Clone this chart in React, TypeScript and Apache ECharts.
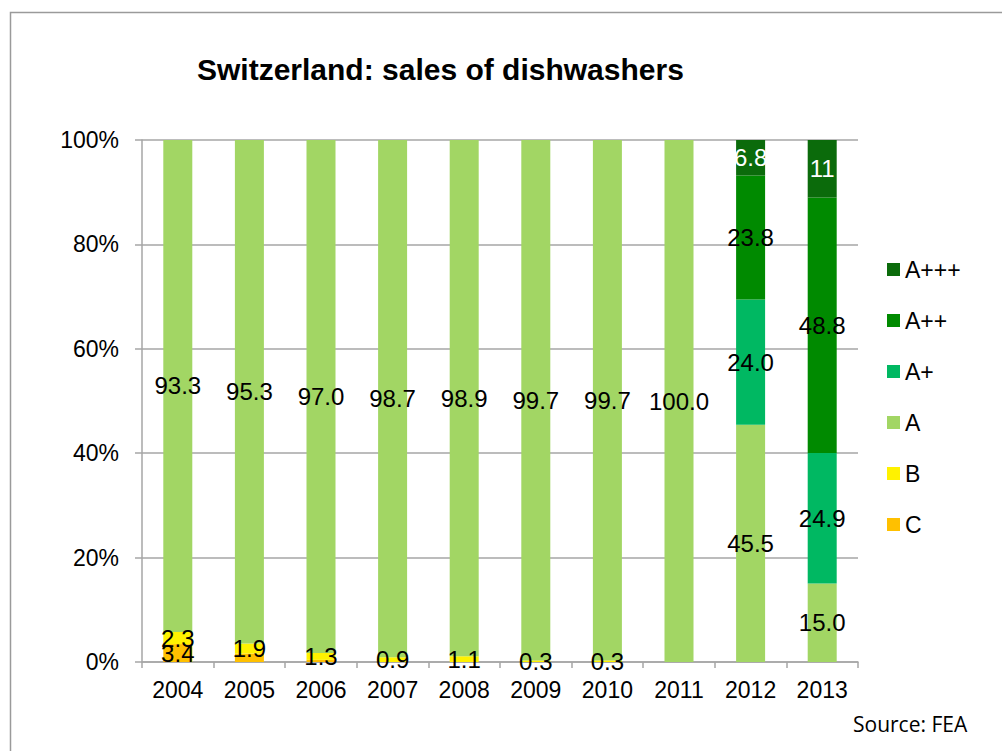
import React, { useEffect, useRef } from "react";
import * as echarts from "echarts";

const years = ["2004", "2005", "2006", "2007", "2008", "2009", "2010", "2011", "2012", "2013"];
const cVals = [3.4, 1.6, 0.4, null, null, null, null, null, null, null];
const cLabelShown = [true, false, false, false, false, false, false, false, false, false];
const bVals = [2.3, 1.9, 1.3, 0.9, 1.1, 0.3, 0.3, null, null, null];
const aVals = [93.3, 95.3, 97.0, 98.7, 98.9, 99.7, 99.7, 100.0, 45.5, 15.0];
const aPlusVals = [null, null, null, null, null, null, null, null, 24.0, 24.9];
const a2PlusVals = [null, null, null, null, null, null, null, null, 23.8, 48.8];
const a3PlusVals = [null, null, null, null, null, null, null, null, 6.8, 11];
const legendOrder = ["A+++", "A++", "A+", "A", "B", "C"];

const FONT = "'Liberation Sans', Arial, sans-serif";
const GRID = "#a6a6a6";

export default function App() {
  const ref = useRef<HTMLDivElement>(null);
  useEffect(() => {
    document.body.style.margin = "0";
    const chart = echarts.init(ref.current!, null, { renderer: "svg", width: 1002, height: 751 });
    const defs = [
      { name: "C", raw: cVals, color: "#FFC000", labelColor: "#000", shown: cLabelShown, fmt: (v: number) => v.toFixed(1) },
      { name: "B", raw: bVals, color: "#FFF200", labelColor: "#000", shown: null, fmt: (v: number) => v.toFixed(1) },
      { name: "A", raw: aVals, color: "#A2D664", labelColor: "#000", shown: null, fmt: (v: number) => v.toFixed(1) },
      { name: "A+", raw: aPlusVals, color: "#00B862", labelColor: "#000", shown: null, fmt: (v: number) => v.toFixed(1) },
      { name: "A++", raw: a2PlusVals, color: "#008A00", labelColor: "#000", shown: null, fmt: (v: number) => v.toFixed(1) },
      { name: "A+++", raw: a3PlusVals, color: "#0B6B0B", labelColor: "#fff", shown: null, fmt: (v: number) => String(v) },
    ];
    const totals = years.map((_, i) =>
      defs.reduce((s, d) => s + ((d.raw[i] as number | null) ?? 0), 0)
    );
    const series = defs.map((d) => ({
      name: d.name,
      type: "bar",
      stack: "total",
      barWidth: 29,
      itemStyle: { color: d.color },
      data: d.raw.map((v, i) => (v == null ? null : ((v as number) / totals[i]) * 100)),
      label: {
        show: true,
        position: "inside",
        color: d.labelColor,
        fontSize: 24,
        fontFamily: FONT,
        formatter: (p: any) => {
          const v = d.raw[p.dataIndex] as number | null;
          if (v == null) return "";
          if (d.shown && !d.shown[p.dataIndex]) return "";
          return d.fmt(v);
        },
      },
    }));
    chart.setOption({
      animation: false,
      title: {
        text: "Switzerland: sales of dishwashers",
        left: 192,
        top: 49,
        textStyle: { fontSize: 30, fontWeight: "bold", fontFamily: FONT, color: "#000" },
      },
      legend: {
        data: legendOrder,
        orient: "vertical",
        left: 882,
        top: 253,
        icon: "rect",
        itemWidth: 13,
        itemHeight: 13,
        itemGap: 28,
        textStyle: { fontSize: 23, fontFamily: FONT, color: "#000" },
      },
      grid: { left: 142, right: 144, top: 140, bottom: 89, containLabel: false },
      xAxis: {
        type: "category",
        data: years,
        axisLine: { lineStyle: { color: GRID, width: 1.5 } },
        axisTick: { show: true, length: 6, alignWithLabel: false, interval: 0, lineStyle: { color: GRID, width: 1.5 } },
        axisLabel: { fontSize: 23, fontFamily: FONT, color: "#000", margin: 16, interval: 0 },
      },
      yAxis: {
        type: "value",
        min: 0,
        max: 100,
        interval: 20,
        axisLine: { show: true, lineStyle: { color: GRID, width: 1.5 } },
        axisTick: { show: true, length: 7, lineStyle: { color: GRID, width: 1.5 } },
        axisLabel: { fontSize: 23, fontFamily: FONT, color: "#000", margin: 23, formatter: "{value}%" },
        splitLine: { lineStyle: { color: GRID, width: 1.5 } },
      },
      graphic: [
        {
          type: "rect",
          shape: { x: 10.5, y: 12.5, width: 1100, height: 800 },
          style: { fill: "none", stroke: "#9a9a9a", lineWidth: 1.5 },
          silent: true,
        },
        {
          type: "text",
          x: 853,
          y: 724,
          style: {
            text: "Source: FEA",
            fill: "#000",
            font: "21px 'Open Sans', sans-serif",
            align: "left",
            verticalAlign: "middle",
          },
        },
      ],
      series,
    });
    return () => chart.dispose();
  }, []);
  return <div ref={ref} style={{ width: 1002, height: 751, position: "absolute", left: 0, top: 0 }} />;
}
